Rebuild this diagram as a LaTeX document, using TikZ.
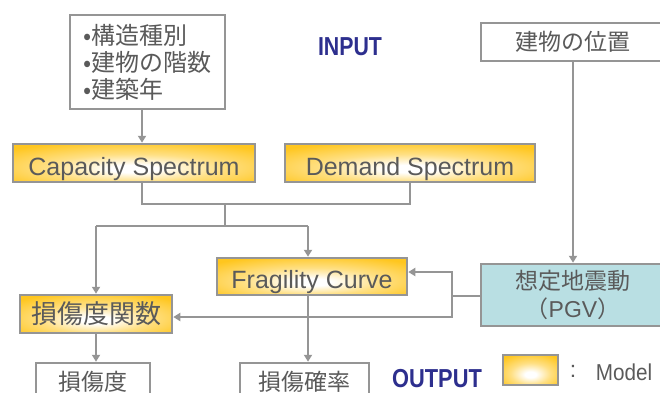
\documentclass[tikz,border=0pt]{standalone}
\usepackage{fontspec}
\setmainfont{Liberation Sans}
\newfontfamily\jp{Noto Sans CJK JP}
\usepackage{tikz}
\usetikzlibrary{arrows.meta}

\definecolor{goldc}{HTML}{FFC61E}
\colorlet{goldmid}{goldc!55!white}
\definecolor{linec}{HTML}{959595}
\definecolor{textc}{HTML}{5A5A5A}
\definecolor{inblue}{HTML}{2D2F8E}
\definecolor{pgvc}{HTML}{B9DFE3}

\pgfdeclareradialshading{modelglow}{\pgfpoint{0bp}{-8bp}}{color(0bp)=(white); color(5bp)=(white); color(18bp)=(goldmid); color(34bp)=(goldc); color(80bp)=(goldc)}

\tikzset{
  plain/.style={draw=linec, line width=2.5pt, fill=white, text=textc, inner sep=0pt},
  model/.style={plain, shading=modelglow},
  line/.style={draw=linec, line width=2.8pt},
  arr/.style={line, -{Triangle[length=7pt,width=8pt]}},
  tag/.style={text=inblue, font=\bfseries\fontsize{26}{26}\selectfont},
  latin/.style={font=\fontsize{25}{25}\selectfont, text depth=0pt, text height=24pt}
}

\begin{document}
\begin{tikzpicture}[x=1pt, y=-1pt]
        \useasboundingbox (0,0) rectangle (660,392);

        % inputs
        \node[plain, minimum width=155pt, minimum height=94pt, align=left,
              font=\jp\fontsize{24}{27}\selectfont] (spec) at (147.5,62) {•構造種別\\•建物の階数\\•建築年};
        \node[tag] (input) at (350,47) {\scalebox{0.82}[1]{INPUT}};
        \node[plain, minimum width=184pt, minimum height=38pt, font=\jp\fontsize{23}{23}\selectfont] (loc) at (573,42) {建物の位置};

        % models
        \node[model, latin, minimum width=242pt, minimum height=38pt] (cap) at (134,163) {Capacity Spectrum};
        \node[model, latin, minimum width=250pt, minimum height=38pt] (dem) at (410,163) {Demand Spectrum};
        \node[model, latin, minimum width=190pt, minimum height=37pt] (frag) at (312,276.5) {Fragility Curve};
        \node[model, minimum width=152pt, minimum height=38pt, font=\jp\fontsize{26}{26}\selectfont] (dfun) at (96,314) {損傷度関数};
        \node[plain, fill=pgvc, minimum width=184pt, minimum height=62pt, align=center,
              font=\jp\fontsize{23}{28}\selectfont] (pgv) at (573,295) {想定地震動\\（{\fontspec{Liberation Sans}PGV}）};

        % outputs
        \node[plain, minimum width=114pt, minimum height=38pt, font=\jp\fontsize{23}{23}\selectfont] (dmg) at (93,382) {損傷度};
        \node[plain, minimum width=129pt, minimum height=38pt, font=\jp\fontsize{23}{23}\selectfont] (prob) at (304.5,382) {損傷確率};
        \node[tag] (output) at (437,379) {\scalebox{0.84}[1]{OUTPUT}};

        % legend
        \node[model, minimum width=55pt, minimum height=30pt] (key) at (530.5,370) {};
        \node[text=textc, font=\fontsize{23}{23}\selectfont] (colon) at (573,371) {:};
        \node[text=textc, font=\fontsize{23}{23}\selectfont] (keytext) at (624,372) {\scalebox{0.9}[1]{Model}};

        % junctions
        \coordinate (j1) at (142,204);
        \coordinate (j2) at (225,226);
        \coordinate (j3) at (452,296);

        \draw[arr] (spec.south -| j1) -- (cap.north -| j1);
        \draw[line] (cap.south -| j1) -- (j1) -- (j1 -| dem.south) -- ++(0,-22);
        \draw[line] (j1 -| j2) -- (j2);
        \draw[arr] (j2 -| dfun.north) -- (dfun.north);
        \draw[line] (j2 -| dfun.north) -- (j2 -| 308,0);
        \draw[arr] (j2 -| 308,0) -- (frag.north -| 308,0);
        \draw[arr] (loc.south) -- (pgv.north);
        \draw[line] (pgv.west |- j3) -- (j3);
        \draw[arr] (j3) |- (frag.east |- 0,272);
        \draw[arr] (j3) |- (dfun.east |- 0,317);
        \draw[arr] (frag.south -| 308,0) -- (prob.north -| 308,0);
        \draw[arr] (dfun.south) -- (dmg.north -| dfun.south);

    \end{tikzpicture}
\end{document}
